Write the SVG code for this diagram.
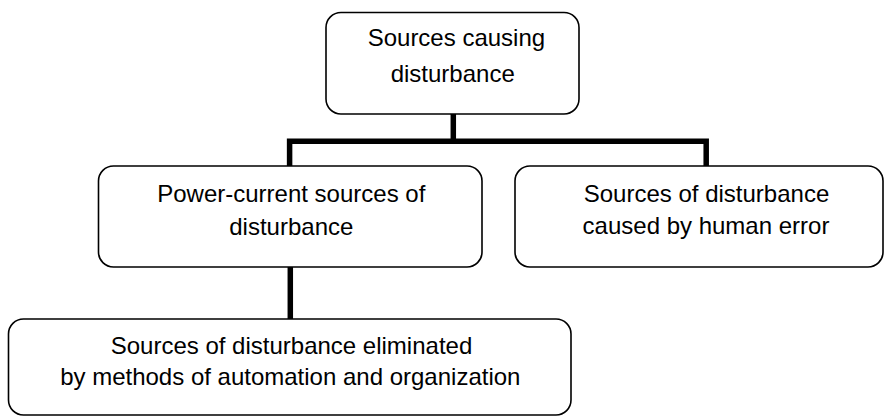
<svg xmlns="http://www.w3.org/2000/svg" width="886" height="416" viewBox="0 0 886 416">
<style>
.box{fill:#fff;stroke:#000;stroke-width:1.6}
.t{font-family:"Liberation Sans",Arial,sans-serif;font-size:24px;fill:#000;text-anchor:middle}
.c{fill:none;stroke:#000;stroke-width:5.5;stroke-linejoin:miter;stroke-linecap:butt}
</style>
<rect width="886" height="416" fill="#fff"/>
<g id="connectors">
<path class="c" d="M453.3,114 V141.2"/>
<path class="c" d="M289.6,166 V141.2 H706.2 V166"/>
<path class="c" d="M290.3,267 V319"/>
</g>
<g id="root">
<rect class="box" x="326" y="12.5" width="253" height="101.5" rx="15"/>
<text class="t" x="456.4" y="45.7">Sources causing</text>
<text class="t" x="452.7" y="81.7">disturbance</text>
</g>
<g id="power">
<rect class="box" x="98.5" y="166" width="383.5" height="101" rx="15"/>
<text class="t" x="291.3" y="202.3">Power-current sources of</text>
<text class="t" x="291.3" y="235">disturbance</text>
</g>
<g id="human">
<rect class="box" x="515" y="166" width="368" height="101" rx="15"/>
<text class="t" x="706.5" y="201.8">Sources of disturbance</text>
<text class="t" x="706" y="233.8">caused by human error</text>
</g>
<g id="eliminated">
<rect class="box" x="8.5" y="319" width="562.5" height="96" rx="15"/>
<text class="t" x="291.5" y="354">Sources of disturbance eliminated</text>
<text class="t" x="290.3" y="385">by methods of automation and organization</text>
</g>
</svg>
